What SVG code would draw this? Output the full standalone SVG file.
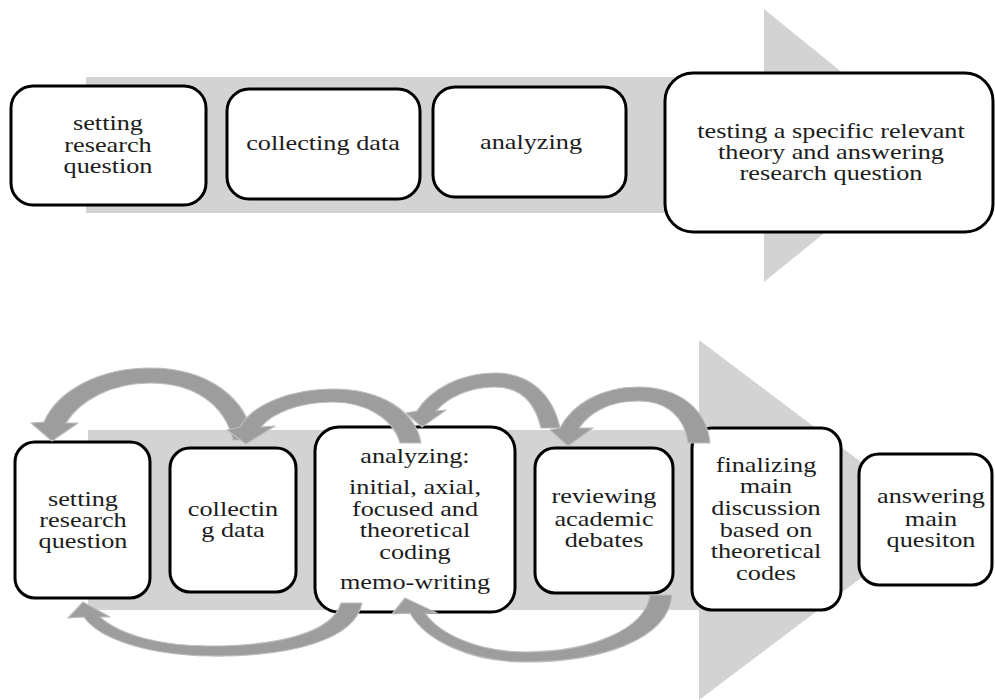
<svg xmlns="http://www.w3.org/2000/svg" width="995" height="700" viewBox="0 0 995 700">
  <style>
    .band { fill: #d3d3d3; }
    .box { fill: #ffffff; stroke: #000000; stroke-width: 3; }
    .lbl { font-family: "Liberation Serif", "DejaVu Serif", serif; font-size: 21px; fill: #1c1c1c; text-anchor: middle; }
    .curl { fill: #9d9d9d; stroke: #bdbdbd; stroke-width: 1.2; stroke-linejoin: round; }
  </style>

  <rect width="995" height="700" fill="#ffffff"/>

  <!-- process bands (block arrows behind the steps) -->
  <g id="band-top">
    <rect class="band" x="86" y="77" width="680" height="136"/>
    <polygon class="band" points="764,9 932,145.5 764,282"/>
  </g>
  <g id="band-bottom">
    <rect class="band" x="88" y="430" width="612" height="180"/>
    <polygon class="band" points="699,340 938,520 699,700"/>
  </g>

  <!-- linear sequence -->
  <g id="top-setting">
    <rect class="box" x="11" y="86" width="195" height="119" rx="22"/>
    <text class="lbl" transform="matrix(1.25 0 0 1 108 0)"><tspan x="0" y="130">setting</tspan><tspan x="0" y="152">research</tspan><tspan x="0" y="173">question</tspan></text>
  </g>
  <g id="top-collecting">
    <rect class="box" x="227" y="89" width="193" height="110" rx="22"/>
    <text class="lbl" transform="matrix(1.25 0 0 1 323 0)"><tspan x="0" y="150">collecting data</tspan></text>
  </g>
  <g id="top-analyzing">
    <rect class="box" x="433" y="87" width="193" height="110" rx="22"/>
    <text class="lbl" transform="matrix(1.25 0 0 1 531 0)"><tspan x="0" y="149">analyzing</tspan></text>
  </g>
  <g id="top-testing">
    <rect class="box" x="665" y="73" width="328" height="159" rx="28"/>
    <text class="lbl" transform="matrix(1.25 0 0 1 831 0)"><tspan x="0" y="138">testing a specific relevant</tspan><tspan x="0" y="159">theory and answering</tspan><tspan x="0" y="180">research question</tspan></text>
  </g>

  <!-- iterative sequence -->
  <g id="bot-setting">
    <rect class="box" x="15" y="442" width="135" height="156" rx="20"/>
    <text class="lbl" transform="matrix(1.25 0 0 1 83 0)"><tspan x="0" y="506">setting</tspan><tspan x="0" y="527">research</tspan><tspan x="0" y="548">question</tspan></text>
  </g>
  <g id="bot-collecting">
    <rect class="box" x="170" y="448" width="126" height="144" rx="20"/>
    <text class="lbl" transform="matrix(1.25 0 0 1 233 0)"><tspan x="0" y="516">collectin</tspan><tspan x="0" y="537">g data</tspan></text>
  </g>
  <g id="bot-analyzing">
    <rect class="box" x="315" y="427" width="200" height="185" rx="24"/>
    <text class="lbl" transform="matrix(1.25 0 0 1 415 0)"><tspan x="0" y="463">analyzing:</tspan><tspan x="0" y="494">initial, axial,</tspan><tspan x="0" y="516">focused and</tspan><tspan x="0" y="537">theoretical</tspan><tspan x="0" y="559">coding</tspan><tspan x="0" y="589">memo-writing</tspan></text>
  </g>
  <g id="bot-reviewing">
    <rect class="box" x="535" y="448" width="138" height="145" rx="20"/>
    <text class="lbl" transform="matrix(1.25 0 0 1 604 0)"><tspan x="0" y="503">reviewing</tspan><tspan x="0" y="526">academic</tspan><tspan x="0" y="547">debates</tspan></text>
  </g>
  <g id="bot-finalizing">
    <rect class="box" x="692" y="428" width="149" height="182" rx="20"/>
    <text class="lbl" transform="matrix(1.25 0 0 1 766 0)"><tspan x="0" y="472">finalizing</tspan><tspan x="0" y="493">main</tspan><tspan x="0" y="515">discussion</tspan><tspan x="0" y="537">based on</tspan><tspan x="0" y="558">theoretical</tspan><tspan x="0" y="580">codes</tspan></text>
  </g>
  <g id="bot-answering">
    <rect class="box" x="859" y="454" width="133" height="131" rx="20"/>
    <text class="lbl" transform="matrix(1.25 0 0 1 931 0)"><tspan x="0" y="503">answering</tspan><tspan x="0" y="526">main</tspan><tspan x="0" y="547">quesiton</tspan></text>
  </g>

  <!-- curved feedback arrows -->
  <g id="connectors">
    <!-- collecting -> setting -->
    <path class="curl" d="M 253 440 C 248 400 210 368 150 368 C 100 368 58 390 44 422 L 31 423 L 52 441 L 78 423 L 66 423 C 80 400 112 383 150 383 C 195 383 225 405 233 440 Z"/>
    <!-- analyzing -> collecting -->
    <path class="curl" d="M 421 443 C 415 410 380 389 333 389 C 290 389 252 405 240 427 L 227 430 L 246 444 L 275 426 L 261 427 C 272 413 300 402 333 402 C 365 402 393 418 400 443 Z"/>
    <!-- reviewing -> analyzing -->
    <path class="curl" d="M 560 428 C 553 395 530 373 495 373 C 460 373 430 390 417 411 L 406 413 L 422 427 L 446 410 L 436 411 C 448 397 470 387 495 387 C 520 387 535 402 541 428 Z"/>
    <!-- finalizing -> reviewing -->
    <path class="curl" d="M 710 443 C 707 410 680 387 638 387 C 600 387 572 405 560 428 L 550 430 L 568 446 L 593 428 L 579 428 C 590 412 610 401 638 401 C 668 401 685 418 688 443 Z"/>
    <!-- analyzing -> setting (below) -->
    <path class="curl" d="M 362 603 C 355 640 290 657 210 656 C 150 655 100 640 84 617 L 68 618 L 83 602 L 110 617 L 100 617 C 120 635 160 646 210 646 C 280 646 333 632 341 603 Z"/>
    <!-- reviewing -> analyzing (below) -->
    <path class="curl" d="M 672 595 C 668 640 600 662 525 662 C 470 662 425 640 410 613 L 392 614 L 405 598 L 437 613 L 425 613 C 440 635 480 652 525 652 C 590 652 645 630 650 595 Z"/>
  </g>
</svg>
